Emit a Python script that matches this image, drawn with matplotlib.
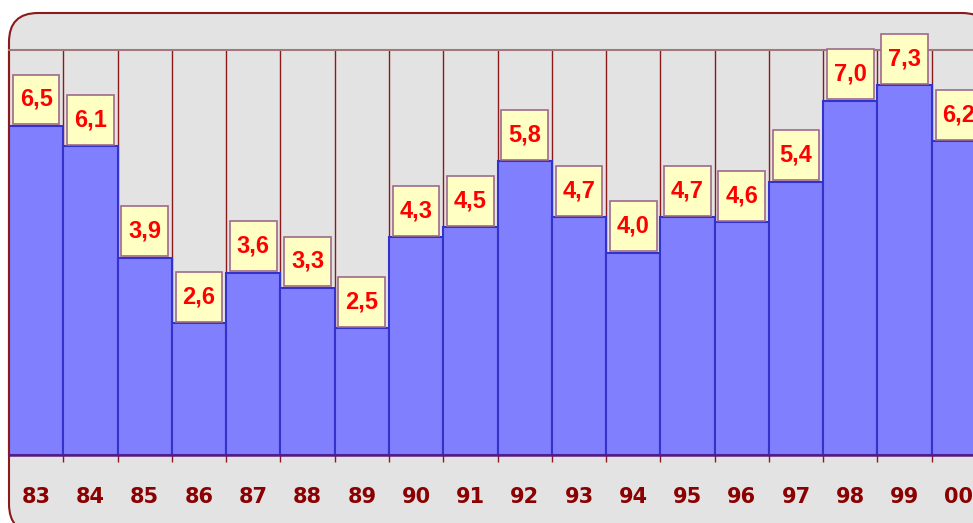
import matplotlib
matplotlib.use("Agg")
import matplotlib.pyplot as plt
from matplotlib.patches import FancyBboxPatch, Rectangle
from matplotlib.ticker import FixedLocator

categories = ["83", "84", "85", "86", "87", "88", "89", "90", "91", "92",
              "93", "94", "95", "96", "97", "98", "99", "00"]
values = [6.5, 6.1, 3.9, 2.6, 3.6, 3.3, 2.5, 4.3, 4.5, 5.8,
          4.7, 4.0, 4.7, 4.6, 5.4, 7.0, 7.3, 6.2]
value_labels = [f"{v:.1f}".replace(".", ",") for v in values]

W, H = 973, 523
fig = plt.figure(figsize=(W / 100, H / 100), dpi=100)
fig.patch.set_facecolor("white")

frame = FancyBboxPatch((0.09, -0.10), 9.82, 5.20,
                       boxstyle="round,pad=0,rounding_size=0.29",
                       transform=fig.dpi_scale_trans,
                       facecolor="#E3E3E3", edgecolor="#8B1A1A", linewidth=1.5,
                       zorder=-10)
fig.patches.append(frame)

ax = fig.add_axes([9 / W, (H - 455) / H, 1 - 9 / W, (455 - 50) / H])
ax.set_zorder(1)
ax.set_facecolor("none")
n = len(values)
ax.set_xlim(-0.5, -0.5 + 964 / 54.28)
ax.set_ylim(0, 8)

# vertical gridlines at category boundaries
for i in range(n):
    ax.axvline(i + 0.5, color="#8B1A1A", linewidth=1.0, zorder=1)

x = list(range(n))
ax.bar(x, values, width=1.0, color="#8080FF", edgecolor="#3333CC",
       linewidth=1.5, zorder=2)

bw, bh, gap = 0.86, 0.985, 0.03
for i, (v, lab) in enumerate(zip(values, value_labels)):
    r = Rectangle((i - bw / 2, v + gap), bw, bh, facecolor="#FFFFC4",
                  edgecolor="#A06A8A", linewidth=1.2, zorder=4, clip_on=False)
    ax.add_patch(r)
    ax.text(i, v + gap + bh / 2, lab, ha="center", va="center",
            fontsize=17, fontweight="bold", color="#FF0000",
            family="Liberation Sans", zorder=5, clip_on=False)

for s in ["right"]:
    ax.spines[s].set_visible(False)
ax.spines["top"].set_color("#A07A7A")
ax.spines["top"].set_linewidth(1.5)
ax.spines["left"].set_color("#8B1A1A")
ax.spines["left"].set_linewidth(1.5)
ax.spines["bottom"].set_color("#5A1A7A")
ax.spines["bottom"].set_linewidth(1.8)
ax.spines["bottom"].set_zorder(6)

ax.set_yticks([])
ax.set_xticks(x)
ax.set_xticklabels(categories, fontsize=15, fontweight="bold",
                   color="#8B0000", family="DejaVu Sans")
ax.tick_params(axis="x", which="major", length=0, pad=23)
ax.xaxis.set_minor_locator(FixedLocator([i + 0.5 for i in range(n)]))
ax.tick_params(axis="x", which="minor", length=5, width=1.0,
               color="#8B1A1A", direction="out")

fig.savefig("out.png", dpi=100, facecolor=fig.get_facecolor())
